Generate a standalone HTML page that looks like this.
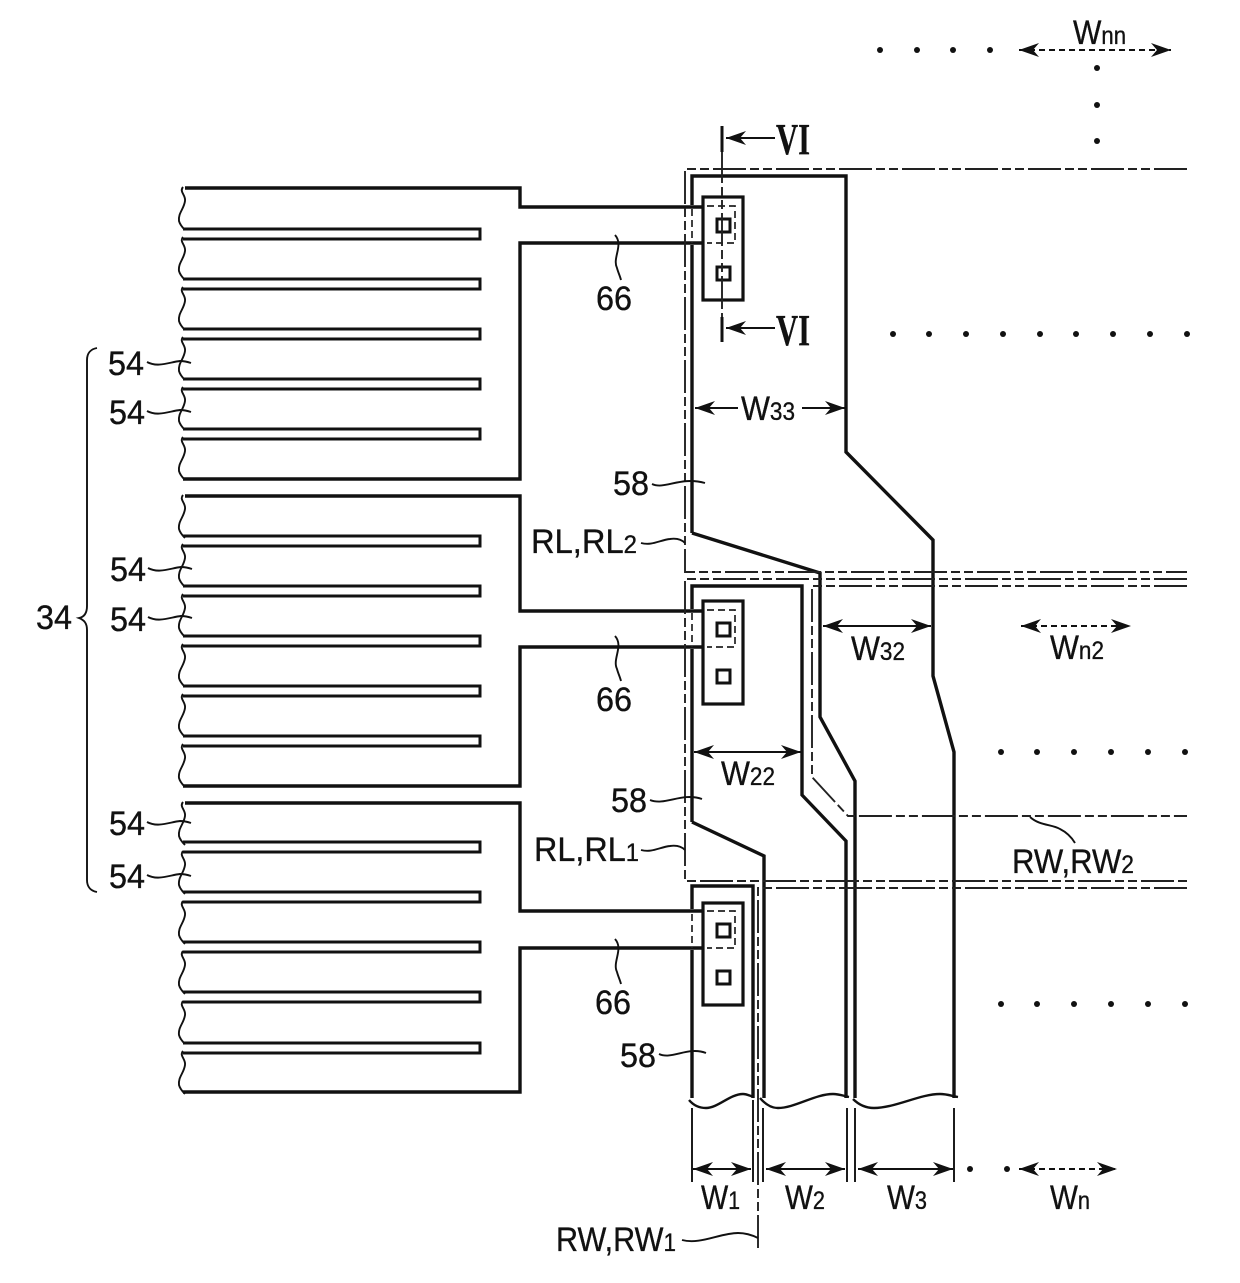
<!DOCTYPE html>
<html lang="en">
<head>
<meta charset="utf-8">
<title>Diagram</title>
<style>
html,body{margin:0;padding:0;background:#fff}
svg{display:block}
text{font-family:"Liberation Sans",sans-serif;fill:#111;font-size:34px;stroke:#111;stroke-width:.35}
.s{font-size:25px}
.r{font-family:"Liberation Serif",serif;font-size:44px;font-weight:bold}
.t{fill:none;stroke:#111;stroke-width:3.4;stroke-linejoin:miter}
.f{fill:none;stroke:#111;stroke-width:3}
.c{fill:none;stroke:#111;stroke-width:3.2}
.w{fill:none;stroke:#111;stroke-width:1.9}
.dd{fill:none;stroke:#222;stroke-width:1.9;stroke-dasharray:33 4 9 4 9 4}
.da{fill:none;stroke:#222;stroke-width:1.7;stroke-dasharray:7 4}
.a{fill:none;stroke:#111;stroke-width:1.9;marker-start:url(#ah);marker-end:url(#ah)}
.ad{fill:none;stroke:#111;stroke-width:2;stroke-dasharray:6 4;marker-start:url(#ah);marker-end:url(#ah)}
.a1{fill:none;stroke:#111;stroke-width:1.9;marker-start:url(#ah)}
</style>
</head>
<body>
<svg width="1240" height="1283" viewBox="0 0 1240 1283" xmlns="http://www.w3.org/2000/svg">
<defs>
<marker id="ah" markerUnits="userSpaceOnUse" markerWidth="22" markerHeight="16" refX="20" refY="8" orient="auto-start-reverse" viewBox="0 0 22 16">
<path d="M20 8 L0 1 L6 8 L0 15 Z" fill="#111"/>
</marker>
<g id="fw"><path class="w" d="M183 0 C179 5 186 8 185 14 C184 22 178 26 179 34 C180 38 183 41 185 43"/></g>
<g id="fg"><path class="f" d="M183 229 H480 V239 H183"/></g>
<circle id="d" r="3" fill="#111"/>
</defs>

<!-- comb 1 -->
<path class="t" d="M185 188 H520 V207 H703 M703 243 H520 V479 H183"/>
<use href="#fg"/>
<use href="#fg" y="50"/>
<use href="#fg" y="100"/>
<use href="#fg" y="150"/>
<use href="#fg" y="200"/>
<use href="#fw" y="187"/>
<use href="#fw" y="237"/>
<use href="#fw" y="287"/>
<use href="#fw" y="337"/>
<use href="#fw" y="387"/>
<use href="#fw" y="437"/>

<!-- comb 2 -->
<path class="t" d="M185 496 H520 V611 H703 M703 647 H520 V786 H183"/>
<use href="#fg" y="307"/>
<use href="#fg" y="357"/>
<use href="#fg" y="407"/>
<use href="#fg" y="457"/>
<use href="#fg" y="507"/>
<use href="#fw" y="495"/>
<use href="#fw" y="544"/>
<use href="#fw" y="594"/>
<use href="#fw" y="644"/>
<use href="#fw" y="694"/>
<use href="#fw" y="744"/>

<!-- comb 3 -->
<path class="t" d="M185 803 H520 V911 H703 M703 948 H520 V1092 H183"/>
<use href="#fg" y="613"/>
<use href="#fg" y="663"/>
<use href="#fg" y="713"/>
<use href="#fg" y="763"/>
<use href="#fg" y="814"/>
<use href="#fw" y="802"/>
<use href="#fw" y="851"/>
<use href="#fw" y="901"/>
<use href="#fw" y="951"/>
<use href="#fw" y="1001"/>
<use href="#fw" y="1051"/>

<!-- electrodes: left edge is dashed where it crosses the wire band -->
<path class="t" d="M692 533 V245 M692 205 V176 H846 V452 L933 540 V676 L954 752 V1098"/>
<path class="t" d="M692 533 L820 573 V717 L855 781 V1098"/>
<path class="t" d="M692 822 V649 M692 609 V586 H802 V795 L846 841 V1098"/>
<path class="t" d="M692 822 L764 856 V1098"/>
<path class="t" d="M692 1098 V950 M692 909 V886 H753 V1098"/>
<path class="da" d="M692 209 V243 M692 613 V647 M692 914 V948" stroke-width="2"/>

<!-- bottom break waves -->
<path fill="none" stroke="#111" stroke-width="2.4" d="M689 1100 C694 1106 700 1108 706 1108 C718 1108 730 1094 743 1094 C747 1094 750 1096 754 1097"/>
<path fill="none" stroke="#111" stroke-width="2.4" d="M760 1098 C766 1105 772 1108 778 1108 C795 1108 815 1094 833 1094 C839 1094 844 1096 849 1097"/>
<path fill="none" stroke="#111" stroke-width="2.4" d="M853 1099 C859 1105 866 1108 874 1108 C895 1108 920 1094 940 1094 C947 1094 952 1096 958 1097"/>

<!-- contacts -->
<rect class="c" x="703" y="197" width="40" height="103"/>
<rect class="c" x="703" y="601" width="40" height="103"/>
<rect class="c" x="703" y="903" width="40" height="102"/>
<path class="da" d="M707 206 H735 V243 H707"/>
<path class="da" d="M707 610 H735 V647 H707"/>
<path class="da" d="M707 911 H735 V948 H707"/>
<rect class="f" x="717" y="219" width="13" height="13"/>
<rect class="f" x="717" y="267" width="13" height="13"/>
<rect class="f" x="717" y="623" width="13" height="13"/>
<rect class="f" x="717" y="670" width="13" height="13"/>
<rect class="f" x="717" y="924" width="13" height="13"/>
<rect class="f" x="717" y="971" width="13" height="13"/>

<!-- dash-dot boundaries -->
<path class="dd" d="M1187 169 H685 V572 H1187"/>
<path class="dd" d="M1187 579 H685 V881 H1187"/>
<path class="dd" d="M1187 586 H812 V777 L848 816 H1187"/>
<path class="dd" d="M1187 888 H758 V1248"/>
<path class="dd" d="M722 150 V317" stroke-dasharray="14 6 5 6"/>
<path fill="none" stroke="#111" stroke-width="3" d="M722 126 V152 M722 317 V342"/>

<!-- VI arrows -->
<path class="a1" d="M726 138 H775"/>
<path class="a1" d="M726 328 H775"/>
<text class="r" x="776" y="154" textLength="34" lengthAdjust="spacingAndGlyphs">VI</text>
<text class="r" x="776" y="345" textLength="34" lengthAdjust="spacingAndGlyphs">VI</text>

<!-- dimension arrows -->
<path class="a1" d="M695 408 H738"/>
<path class="a1" d="M845 408 H802"/>
<path class="a" d="M823 626 H931"/>
<path class="a" d="M694 752 H801"/>
<path class="a" d="M693 1169 H751"/>
<path class="a" d="M766 1169 H845"/>
<path class="a" d="M858 1169 H953"/>
<path class="ad" d="M1019 50 H1171"/>
<path class="ad" d="M1021 626 H1131"/>
<path class="ad" d="M1019 1169 H1117"/>
<path class="w" d="M692 1108 V1182 M753 1100 V1182 M763 1108 V1182 M847 1108 V1182 M855 1108 V1182 M954 1108 V1182"/>

<!-- dots -->
<use href="#d" x="880" y="50"/><use href="#d" x="917" y="50"/><use href="#d" x="953" y="50"/><use href="#d" x="990" y="50"/>
<use href="#d" x="1097" y="68"/><use href="#d" x="1097" y="105"/><use href="#d" x="1097" y="141"/>
<use href="#d" x="893" y="334"/><use href="#d" x="929" y="334"/><use href="#d" x="966" y="334"/><use href="#d" x="1003" y="334"/><use href="#d" x="1040" y="334"/><use href="#d" x="1076" y="334"/><use href="#d" x="1113" y="334"/><use href="#d" x="1150" y="334"/><use href="#d" x="1187" y="334"/>
<use href="#d" x="1001" y="752"/><use href="#d" x="1037" y="752"/><use href="#d" x="1074" y="752"/><use href="#d" x="1111" y="752"/><use href="#d" x="1148" y="752"/><use href="#d" x="1185" y="752"/>
<use href="#d" x="1001" y="1004"/><use href="#d" x="1037" y="1004"/><use href="#d" x="1074" y="1004"/><use href="#d" x="1111" y="1004"/><use href="#d" x="1148" y="1004"/><use href="#d" x="1185" y="1004"/>
<use href="#d" x="970" y="1169"/><use href="#d" x="1007" y="1169"/>

<!-- brace 34 -->
<path class="w" d="M97 348 C91 349 87 353 87 360 V606 C87 613 84 617 79 618 C84 620 87 623 87 630 V880 C87 887 91 891 97 892"/>

<!-- leaders -->
<path class="w" d="M147 362 C158 368 170 362 180 361 C184 361 188 362 191 363"/>
<path class="w" d="M147 411 C158 417 170 411 180 410 C184 410 188 411 191 412"/>
<path class="w" d="M148 568 C159 574 171 568 181 567 C185 567 189 568 192 569"/>
<path class="w" d="M148 617 C159 623 171 617 181 616 C185 616 189 617 192 618"/>
<path class="w" d="M147 822 C158 828 170 822 180 821 C184 821 188 822 191 823"/>
<path class="w" d="M147 875 C158 881 170 875 180 874 C184 874 188 875 191 876"/>
<path class="w" d="M615 235 C624 245 612 258 617 268 C618 272 620 276 621 280"/>
<path class="w" d="M615 636 C624 646 612 659 617 669 C618 673 620 677 621 681"/>
<path class="w" d="M615 939 C624 949 612 962 617 972 C618 976 620 980 621 984"/>
<path class="w" d="M652 484 C665 490 680 476 705 483"/>
<path class="w" d="M650 800 C665 806 682 792 702 799"/>
<path class="w" d="M659 1054 C672 1060 688 1046 706 1053"/>
<path class="w" d="M641 543 C652 546 660 540 670 539 C677 538 682 540 685 543"/>
<path class="w" d="M641 850 C652 853 660 847 670 846 C677 845 682 847 685 850"/>
<path class="w" d="M1030 817 C1040 826 1052 824 1060 829 C1068 833 1072 838 1075 843"/>
<path class="w" d="M682 1240 C700 1245 720 1233 738 1233 C746 1233 752 1235 758 1238"/>

<!-- labels -->
<text x="108" y="375" textLength="36" lengthAdjust="spacingAndGlyphs">54</text>
<text x="109" y="424" textLength="36" lengthAdjust="spacingAndGlyphs">54</text>
<text x="110" y="581" textLength="36" lengthAdjust="spacingAndGlyphs">54</text>
<text x="110" y="631" textLength="36" lengthAdjust="spacingAndGlyphs">54</text>
<text x="109" y="835" textLength="36" lengthAdjust="spacingAndGlyphs">54</text>
<text x="109" y="888" textLength="36" lengthAdjust="spacingAndGlyphs">54</text>
<text x="36" y="629" textLength="36" lengthAdjust="spacingAndGlyphs">34</text>
<text x="596" y="310" textLength="36" lengthAdjust="spacingAndGlyphs">66</text>
<text x="596" y="711" textLength="36" lengthAdjust="spacingAndGlyphs">66</text>
<text x="595" y="1014" textLength="36" lengthAdjust="spacingAndGlyphs">66</text>
<text x="613" y="495" textLength="36" lengthAdjust="spacingAndGlyphs">58</text>
<text x="611" y="812" textLength="36" lengthAdjust="spacingAndGlyphs">58</text>
<text x="620" y="1067" textLength="36" lengthAdjust="spacingAndGlyphs">58</text>
<text x="531" y="553" textLength="106" lengthAdjust="spacingAndGlyphs">RL,RL<tspan class="s">2</tspan></text>
<text x="534" y="861" textLength="105" lengthAdjust="spacingAndGlyphs">RL,RL<tspan class="s">1</tspan></text>
<text x="1012" y="873" textLength="122" lengthAdjust="spacingAndGlyphs">RW,RW<tspan class="s">2</tspan></text>
<text x="556" y="1251" textLength="120" lengthAdjust="spacingAndGlyphs">RW,RW<tspan class="s">1</tspan></text>
<text x="741" y="420" textLength="54" lengthAdjust="spacingAndGlyphs">W<tspan class="s">33</tspan></text>
<text x="851" y="660" textLength="54" lengthAdjust="spacingAndGlyphs">W<tspan class="s">32</tspan></text>
<text x="721" y="785" textLength="54" lengthAdjust="spacingAndGlyphs">W<tspan class="s">22</tspan></text>
<text x="1050" y="659" textLength="54" lengthAdjust="spacingAndGlyphs">W<tspan class="s">n2</tspan></text>
<text x="1073" y="44" textLength="53" lengthAdjust="spacingAndGlyphs">W<tspan class="s">nn</tspan></text>
<text x="701" y="1209" textLength="39" lengthAdjust="spacingAndGlyphs">W<tspan class="s">1</tspan></text>
<text x="785" y="1209" textLength="40" lengthAdjust="spacingAndGlyphs">W<tspan class="s">2</tspan></text>
<text x="887" y="1209" textLength="40" lengthAdjust="spacingAndGlyphs">W<tspan class="s">3</tspan></text>
<text x="1050" y="1209" textLength="40" lengthAdjust="spacingAndGlyphs">W<tspan class="s">n</tspan></text>
</svg>
</body>
</html>
